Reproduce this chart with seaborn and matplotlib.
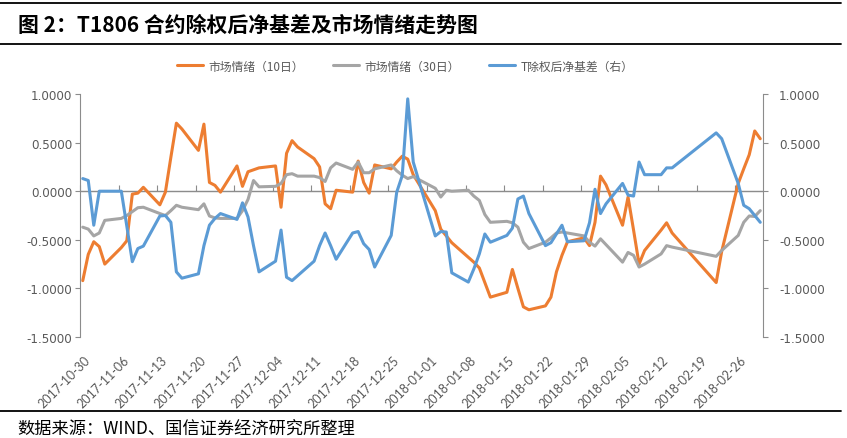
import numpy as np
import pandas as pd
import matplotlib
matplotlib.use('Agg')
import matplotlib.pyplot as plt
import matplotlib.ticker as mticker
from matplotlib.lines import Line2D
from matplotlib.transforms import ScaledTranslation
import seaborn as sns

# trading days 2017-10-30 .. 2018-03-02 (exchange holidays removed)
HOLIDAYS = ['2018-01-01', '2018-02-15', '2018-02-16', '2018-02-19', '2018-02-20', '2018-02-21']
dates = pd.bdate_range('2017-10-30', '2018-03-02')
dates = dates[~dates.isin(pd.to_datetime(HOLIDAYS))]

# 市场情绪（10日）
sent10 = [
    -0.92, -0.65, -0.52, -0.57, -0.75,
    -0.58, -0.51, -0.03, -0.02, 0.04,
    -0.14, -0.01, 0.35, 0.70, 0.64,
    0.42, 0.69, 0.09, 0.06, -0.01,
    0.26, 0.05, 0.20, 0.22, 0.24,
    0.26, -0.165, 0.39, 0.52, 0.455,
    0.335, 0.25, -0.13, -0.18, 0.01,
    -0.01, 0.31, 0.09, -0.02, 0.27,
    0.23, 0.30, 0.36, 0.33, 0.17,
    -0.20, -0.39, -0.46, -0.53,
    -0.68, -0.73, -0.79, -0.94, -1.09,
    -1.04, -0.805, -1.00, -1.19, -1.22,
    -1.18, -1.09, -0.83, -0.66, -0.52,
    -0.48, -0.56, -0.32, 0.155, 0.065,
    -0.35, -0.06, -0.40, -0.75, -0.61,
    -0.40, -0.325, -0.43,
    -0.94, -0.62,
    0.08, 0.23, 0.375, 0.62, 0.54,
]

# 市场情绪（30日）
sent30 = [
    -0.37, -0.39, -0.46, -0.43, -0.30,
    -0.28, -0.25, -0.21, -0.17, -0.165,
    -0.23, -0.25, -0.20, -0.145, -0.165,
    -0.19, -0.13, -0.255, -0.275, -0.28,
    -0.28, -0.20, -0.085, 0.11, 0.045,
    0.05, 0.08, 0.17, 0.18, 0.155,
    0.155, 0.14, 0.10, 0.24, 0.29,
    0.225, 0.30, 0.19, 0.19, 0.23,
    0.27, 0.21, 0.165, 0.13, 0.15,
    0.03, -0.06, 0.01, 0.00,
    0.01, -0.05, -0.095, -0.24, -0.32,
    -0.31, -0.325, -0.37, -0.525, -0.59,
    -0.525, -0.48, -0.43, -0.42, -0.43,
    -0.46, -0.525, -0.565, -0.49, -0.55,
    -0.73, -0.63, -0.66, -0.78, -0.75,
    -0.645, -0.56, -0.575,
    -0.67, -0.61,
    -0.455, -0.32, -0.255, -0.26, -0.20,
]

# T除权后净基差（右）
basis = [
    0.13, 0.11, -0.35, 0.00, 0.00,
    0.00, -0.36, -0.725, -0.59, -0.565,
    -0.255, -0.25, -0.32, -0.83, -0.895,
    -0.85, -0.56, -0.35, -0.28, -0.23,
    -0.29, -0.12, -0.265, -0.56, -0.83,
    -0.72, -0.40, -0.885, -0.92, -0.87,
    -0.72, -0.56, -0.43, -0.56, -0.70,
    -0.43, -0.415, -0.54, -0.60, -0.78,
    -0.455, -0.01, 0.16, 0.95, 0.30,
    -0.46, -0.415, -0.42, -0.84,
    -0.935, -0.80, -0.645, -0.44, -0.525,
    -0.455, -0.38, -0.08, -0.05, -0.23,
    -0.56, -0.53, -0.44, -0.35, -0.52,
    -0.51, -0.325, 0.02, -0.23, -0.13,
    0.08, -0.04, -0.05, 0.30, 0.17,
    0.17, 0.24, 0.24,
    0.60, 0.54,
    0.08, -0.145, -0.18, -0.25, -0.32,
]

LABELS = ['市场情绪（10日）', '市场情绪（30日）', 'T除权后净基差（右）']
COLORS = ['#ED7D31', '#A5A5A5', '#5B9BD5']
tick_dates = pd.date_range('2017-10-30', '2018-02-26', freq='7D')

sns.set_style('white')
plt.rcParams['font.family'] = ['Noto Sans CJK SC', 'DejaVu Sans']
AXIS_GREY = '#8C8C8C'
TEXT_GREY = '#595959'

W, H = 847, 439
fig = plt.figure(figsize=(W / 100, H / 100), dpi=100)
ax = fig.add_axes([80 / W, 1 - 338 / H, 683 / W, 243 / H])
ax2 = ax.twinx()

# points sit in the middle of their day (Excel "between tick marks")
x = dates + pd.Timedelta(hours=12)
sns.lineplot(x=x, y=sent10, ax=ax, color=COLORS[0], linewidth=2.2, legend=False)
sns.lineplot(x=x, y=sent30, ax=ax, color=COLORS[1], linewidth=2.2, legend=False)
sns.lineplot(x=x, y=basis, ax=ax2, color=COLORS[2], linewidth=2.2, legend=False)

for a in (ax, ax2):
    a.set_ylim(-1.5, 1.0)
    a.set_yticks(np.arange(-1.5, 1.01, 0.5))
    a.yaxis.set_major_formatter(mticker.FormatStrFormatter('%.4f'))
    a.set_xlabel('')
    a.set_ylabel('')
    a.grid(False)
    for s in ('top', 'bottom'):
        a.spines[s].set_visible(False)
ax.set_xlim(pd.Timestamp('2017-10-30'), pd.Timestamp('2018-03-03'))

ax.spines['right'].set_visible(False)
ax.spines['left'].set_color(AXIS_GREY)
ax2.spines['left'].set_visible(False)
ax2.spines['right'].set_color(AXIS_GREY)
ax.tick_params(axis='y', direction='out', length=3.5, width=0.8, color=AXIS_GREY,
               labelcolor=TEXT_GREY, labelsize=8.6, pad=2, labelfontfamily='DejaVu Sans')
ax2.tick_params(axis='y', direction='out', length=3.5, width=0.8, color=AXIS_GREY,
                labelcolor=TEXT_GREY, labelsize=8.6, pad=8, labelfontfamily='DejaVu Sans')

# zero line with the weekly date ticks
ax.axhline(0, color=AXIS_GREY, linewidth=0.9, zorder=0.5)
sec = ax.secondary_xaxis(0.6)
sec.set_xticks(tick_dates)
sec.set_xticklabels([])
sec.spines['bottom'].set_visible(False)
sec.tick_params(axis='x', direction='out', length=4, width=0.8, color=AXIS_GREY)

# date labels at the bottom
ax.set_xticks(tick_dates)
ax.set_xticklabels([d.strftime('%Y-%m-%d') for d in tick_dates], rotation=45,
                   ha='right', rotation_mode='anchor')
ax.tick_params(axis='x', length=0, pad=12, labelcolor=TEXT_GREY, labelsize=9,
               labelfontfamily='Lato')
shift = ScaledTranslation(0.04, 0, fig.dpi_scale_trans)
for lab in ax.get_xticklabels():
    lab.set_transform(lab.get_transform() + shift)

handles = [Line2D([], [], color=c, linewidth=2.2) for c in COLORS]
leg = fig.legend(handles, LABELS, loc='center', bbox_to_anchor=(405 / W, 1 - 67 / H),
                 ncol=3, frameon=False, fontsize=8.5, handlelength=2.2,
                 handletextpad=0.45, columnspacing=2.5)
for t in leg.get_texts():
    t.set_color(TEXT_GREY)

# title, source and rules
for yy in (3.5, 45, 412):
    fig.add_artist(Line2D([0, 841 / W], [1 - yy / H] * 2, transform=fig.transFigure,
                          color='black', linewidth=1.3))
fig.text(18 / W, 1 - 25 / H, '图 2：T1806 合约除权后净基差及市场情绪走势图',
         fontsize=15, fontweight='bold', va='center', color='black')
fig.text(17 / W, 1 - 429.5 / H, '数据来源：WIND、国信证券经济研究所整理',
         fontsize=12.4, va='center', color='black')

fig.savefig('out.png', dpi=100)
